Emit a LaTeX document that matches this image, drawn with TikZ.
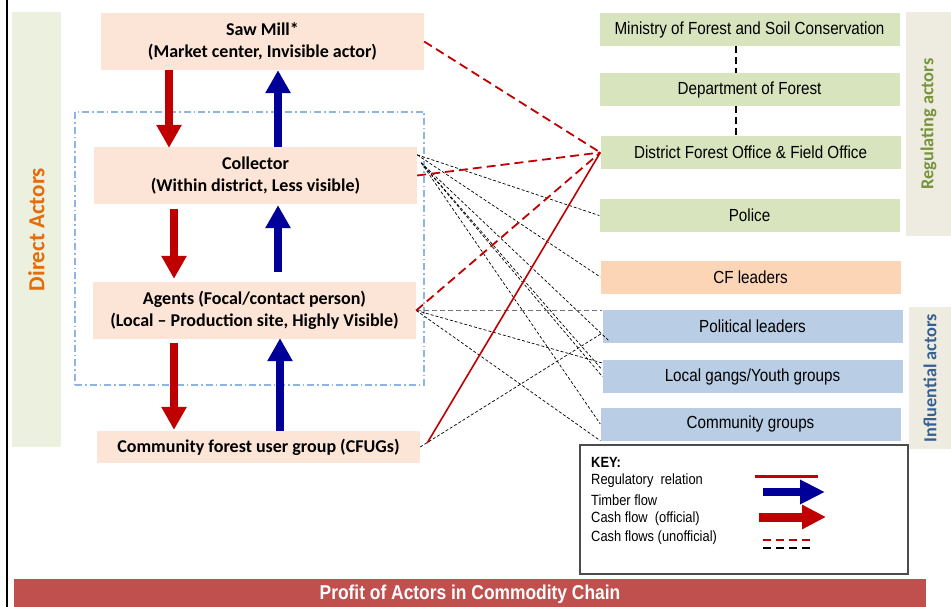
\documentclass[tikz,border=0pt]{standalone}
\usepackage{fontspec}
\setmainfont{Carlito}
\newfontfamily\narrowfont[FakeStretch=0.87]{Liberation Sans}
\usetikzlibrary{arrows.meta}
\definecolor{peach}{HTML}{FCE4D6}
\definecolor{cforange}{HTML}{FBD5B5}
\definecolor{boxgreen}{HTML}{D7E4BD}
\definecolor{boxblue}{HTML}{B9CDE5}
\definecolor{dabg}{HTML}{EBF1DE}
\definecolor{daorange}{HTML}{E46C0A}
\definecolor{sidebg}{HTML}{EEECE1}
\definecolor{reggreen}{HTML}{77933C}
\definecolor{infblue}{HTML}{376092}
\definecolor{cashred}{HTML}{C00000}
\definecolor{timberblue}{HTML}{000099}
\definecolor{barred}{HTML}{C0504D}
\definecolor{grpblue}{HTML}{8DB4E2}
\tikzset{
  leftbox/.style={fill=peach, minimum width=323pt, inner sep=0pt, align=center,
    font=\bfseries\fontsize{18}{22.5}\selectfont},
  rbox/.style={minimum width=300pt, minimum height=33pt, inner sep=0pt,
    font=\narrowfont\fontsize{17.5}{20}\selectfont},
  greenbox/.style={rbox, fill=boxgreen},
  orangebox/.style={rbox, fill=cforange},
  bluebox/.style={rbox, fill=boxblue},
  sidelabel/.style={fill=sidebg, rotate=90, inner sep=0pt, font=\bfseries\fontsize{18.3}{20}\selectfont},
  cashflow/.style={cashred, line width=8.5pt, -{Triangle[length=23pt,width=24pt]}},
  timberflow/.style={timberblue, line width=8.5pt, -{Triangle[length=23pt,width=24pt]}},
  reddash/.style={cashred, line width=1.8pt, dash pattern=on 9pt off 5pt},
  redsolid/.style={cashred, line width=1.6pt},
  bkdash/.style={black, line width=0.7pt, dash pattern=on 3pt off 2pt},
  graydash/.style={black!55, line width=1.8pt, dash pattern=on 5pt off 3pt},
  vdash/.style={black, line width=2.5pt, dash pattern=on 7pt off 4pt},
  keytext/.style={anchor=west, inner sep=0pt, font=\narrowfont\fontsize{14.8}{16}\selectfont}
}
\begin{document}
\begin{tikzpicture}[x=1pt,y=-1pt]
\useasboundingbox (0,0) rectangle (951,607);
\fill[white] (0,0) rectangle (951,607);
% left border
\draw[black, line width=2.5pt] (7,0) -- (7,607);

% side labels
\node[sidelabel, fill=dabg, minimum width=435pt, minimum height=49pt, text=daorange,
  font=\bfseries\fontsize{23}{24}\selectfont] (da) at (36.5,229.5) {Direct Actors};
\node[sidelabel, minimum width=224pt, minimum height=45pt, text=reggreen] (reg) at (928.5,124) {Regulating actors};
\node[sidelabel, minimum width=142pt, minimum height=42pt, text=infblue] (inf) at (930,378) {Influential actors};

% group box
\node[draw=grpblue, line width=1.3pt, dash pattern=on 7pt off 3pt on 1.5pt off 3pt,
  minimum width=349pt, minimum height=273pt, inner sep=0pt] (grp) at (249.5,248.5) {};

% direct actors
\node[leftbox, minimum height=57pt] (saw) at (262.5,41.5) {Saw Mill*\\(Market center, Invisible actor)};
\node[leftbox, minimum height=57pt] (col) at (255.5,175.5) {Collector\\(Within district, Less visible)};
\node[leftbox, minimum height=57pt] (agt) at (254.5,310.5) {Agents (Focal/contact person)\\(Local – Production site, Highly Visible)};
\node[leftbox, minimum height=32pt] (cfug) at (258.5,447) {Community forest user group (CFUGs)};

% right column
\node[greenbox] (min) at (749.5,29.5) {Ministry of Forest and Soil Conservation};
\node[greenbox] (dep) at (749.5,89.5) {Department of Forest};
\node[greenbox] (dfo) at (750.5,152.5) {District Forest Office \& Field Office};
\node[greenbox] (pol) at (749.5,215.5) {Police};
\node[orangebox] (cfl) at (750.5,277) {CF leaders};
\node[bluebox] (polit) at (752.5,326.5) {Political leaders};
\node[bluebox] (gang) at (752.5,376.5) {Local gangs/Youth groups};
\node[bluebox] (comm) at (750.5,424) {Community groups};

% hierarchy dashes
\draw[vdash] ([xshift=-13.5pt]min.south) -- ([xshift=-13.5pt]dep.north);
\draw[vdash] ([xshift=-13.5pt]dep.south) -- ([xshift=-14.5pt]dfo.north);

% flows
\draw[cashflow] ([xshift=-93.5pt]saw.south) -- ([xshift=-86.5pt,yshift=-1pt]col.north);
\draw[timberflow] ([xshift=22.5pt]col.north) -- ([xshift=15.5pt]saw.south);
\draw[cashflow] ([xshift=-81.5pt,yshift=-5pt]col.south) -- ([xshift=-80.5pt,yshift=3pt]agt.north);
\draw[timberflow] ([xshift=23.5pt,yshift=10pt]agt.north) -- ([xshift=22.5pt,yshift=-1pt]col.south);
\draw[cashflow] ([xshift=-80.5pt,yshift=-4pt]agt.south) -- ([xshift=-84.5pt,yshift=1pt]cfug.north);
\draw[timberflow] ([xshift=21.5pt]cfug.north) -- ([xshift=25.5pt,yshift=1pt]agt.south);

% unofficial cash flows (black)
\coordinate (c1) at ([yshift=-8pt]col.north east);
\coordinate (c2) at ([xshift=4pt,yshift=-16pt]col.north east);
\draw[bkdash] (c1) -- (pol.west);
\draw[bkdash] (c1) -- (cfl.west);
\draw[bkdash] (c2) -- ([xshift=6pt,yshift=3pt]polit.south west);
\draw[bkdash] (c2) -- ([yshift=6.5pt]gang.west);
\draw[bkdash] (c2) -- (gang.west);
\draw[bkdash] (c2) -- (comm.west);
\draw[graydash] (agt.east) -- (agt.east -| polit.west);
\draw[bkdash] (agt.east) -- ([yshift=13.5pt]gang.west);
\draw[bkdash] (agt.east) -- (comm.south west);
\draw[bkdash] (cfug.east) -- ([yshift=-6.5pt]polit.west);

% red relations to DFO
\draw[reddash] (saw.east) -- (dfo.west);
\draw[reddash] (col.east) -- (dfo.west);
\draw[reddash] (agt.east) -- (dfo.west);
\draw[redsolid] ([xshift=7pt,yshift=4pt]cfug.east) -- (dfo.west);

% key
\node[draw=black!70, line width=1.2pt, fill=white, minimum width=328pt, minimum height=129pt, inner sep=0pt] (key) at (744,509.5) {};
\node[keytext, font=\narrowfont\bfseries\fontsize{14.8}{16}\selectfont] (kh) at (591,462) {KEY:};
\node[keytext] (k1) at (591,481) {Regulatory\ \ relation};
\node[keytext] (k2) at (591,500) {Timber flow};
\node[keytext] (k3) at (591,519) {Cash flow\ \ (official)};
\node[keytext] (k4) at (591,538) {Cash flows (unofficial)};
\draw[cashred, line width=3pt] (755,476) -- (818,476);
\draw[timberblue, line width=8pt, -{Triangle[length=25pt,width=23pt]}] (763,492) -- (825,492);
\draw[cashred, line width=9pt, -{Triangle[length=24pt,width=23pt]}] (759,517) -- (826,517);
\draw[cashred, line width=2pt, dash pattern=on 8pt off 5pt] (763,540) -- (813,540);
\draw[black, line width=2pt, dash pattern=on 8pt off 5pt] (763,548) -- (813,548);

% bottom bar
\node[fill=barred, minimum width=912pt, minimum height=30pt, inner sep=0pt, text=white,
  font=\narrowfont\bfseries\fontsize{20}{22}\selectfont] (bar) at (470,594) {Profit of Actors in Commodity Chain};
\end{tikzpicture}
\end{document}
